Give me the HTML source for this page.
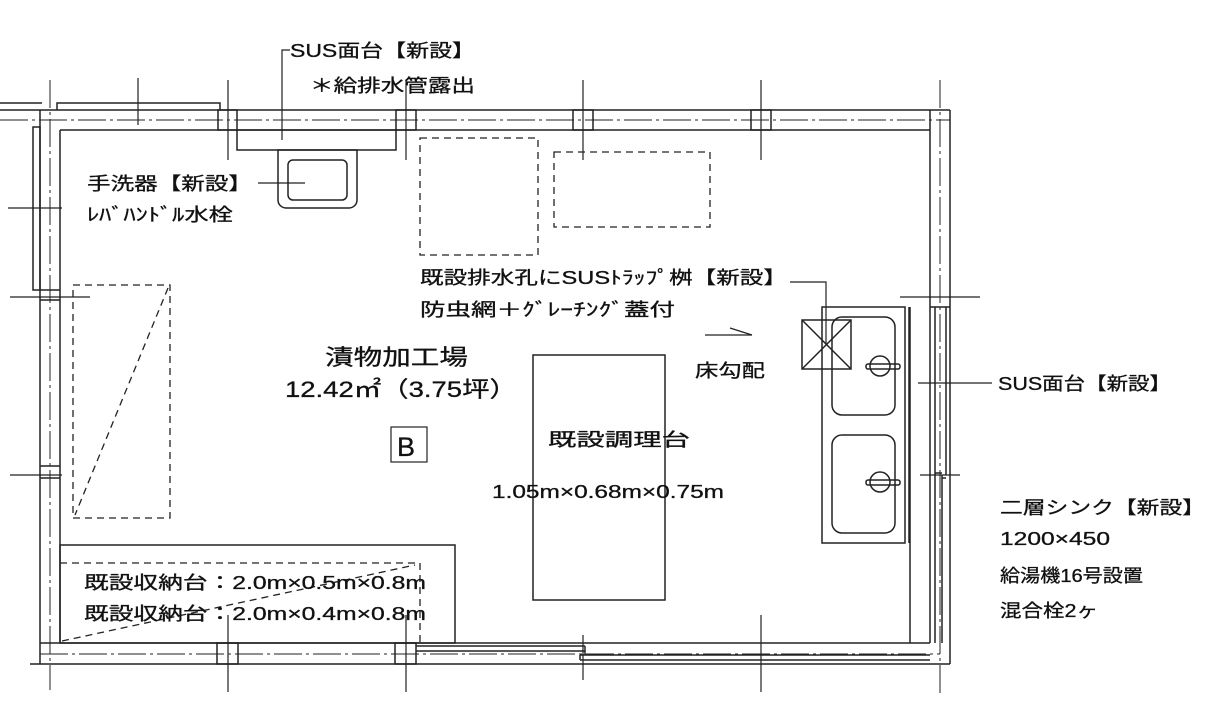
<!DOCTYPE html>
<html><head><meta charset="utf-8"><style>
html,body{margin:0;padding:0;background:#fff;}
svg{display:block;}
text{font-family:"Liberation Sans","Noto Sans CJK JP",sans-serif;fill:#111;stroke:#111;stroke-width:0.3;}
</style></head><body>
<svg width="1231" height="721" viewBox="0 0 1231 721" xmlns="http://www.w3.org/2000/svg">
<g stroke="#222" stroke-width="1.5" fill="none">
<line x1="0" y1="110" x2="950" y2="110"/>
<line x1="60" y1="130" x2="930" y2="130"/>
<line x1="0" y1="103" x2="42" y2="103"/>
<polyline points="57,110 57,103 220,103 220,110"/>
<line x1="40" y1="110" x2="40" y2="664"/>
<line x1="60" y1="130" x2="60" y2="643"/>
<rect x="33" y="127" width="7" height="163"/>
<line x1="40" y1="290" x2="60" y2="290"/>
<line x1="40" y1="300" x2="60" y2="300"/>
<line x1="40" y1="466" x2="60" y2="466"/>
<line x1="40" y1="478" x2="60" y2="478"/>
<line x1="930" y1="110" x2="930" y2="643"/>
<line x1="950" y1="110" x2="950" y2="664"/>
<line x1="40" y1="643" x2="930" y2="643"/>
<line x1="30" y1="664" x2="950" y2="664"/>
<rect x="218" y="110" width="19" height="20"/>
<rect x="396" y="110" width="20" height="20"/>
<rect x="573" y="110" width="20" height="20"/>
<rect x="751" y="110" width="20" height="20"/>
<rect x="217" y="643" width="21" height="21"/>
<rect x="395" y="643" width="21" height="21"/>
<line x1="416" y1="646" x2="585" y2="646"/>
<line x1="416" y1="651" x2="585" y2="651"/>
<line x1="580" y1="655" x2="930" y2="655"/>
<line x1="580" y1="660" x2="930" y2="660"/>
<line x1="585" y1="646" x2="585" y2="655"/>
<line x1="580" y1="655" x2="580" y2="660"/>
<line x1="935" y1="307" x2="935" y2="643"/>
<line x1="946" y1="307" x2="946" y2="475"/>
<line x1="942" y1="475" x2="942" y2="643"/>
<line x1="935" y1="473" x2="942" y2="473"/>
<line x1="942" y1="478" x2="946" y2="478"/>
<line x1="930" y1="307" x2="950" y2="307"/>
</g>
<g stroke="#222" stroke-width="1" stroke-dasharray="28,4,3,4" fill="none">
<line x1="0" y1="120" x2="950" y2="120"/>
<line x1="50" y1="80" x2="50" y2="690"/>
<line x1="940" y1="80" x2="940" y2="695"/>
<line x1="40" y1="654" x2="940" y2="654"/>
</g>
<g stroke="#222" stroke-width="1.2">
<line x1="138" y1="78" x2="138" y2="125"/>
<line x1="228" y1="80" x2="228" y2="160"/>
<line x1="406" y1="80" x2="406" y2="160"/>
<line x1="583" y1="80" x2="583" y2="160"/>
<line x1="761" y1="80" x2="761" y2="160"/>
<line x1="228" y1="615" x2="228" y2="692"/>
<line x1="406" y1="615" x2="406" y2="692"/>
<line x1="583" y1="635" x2="583" y2="680"/>
<line x1="761" y1="615" x2="761" y2="692"/>
<line x1="8" y1="208" x2="62" y2="208"/>
<line x1="10" y1="297" x2="90" y2="297"/>
<line x1="10" y1="475" x2="62" y2="475"/>
<line x1="900" y1="297" x2="980" y2="297"/>
<line x1="920" y1="475" x2="960" y2="475"/>
</g>
<g stroke="#222" stroke-width="1.5" fill="none">
<rect x="237" y="130" width="159" height="20"/>
<path d="M278,150 H357 V200 a8,8 0 0 1 -8,8 H286 a8,8 0 0 1 -8,-8 Z"/>
<rect x="288" y="160" width="59" height="40" rx="5"/>
<rect x="533" y="355" width="132" height="245"/>
<rect x="60" y="545" width="395" height="98"/>
<rect x="822" y="307" width="83" height="236"/>
<line x1="909" y1="307" x2="909" y2="543"/>
<line x1="910" y1="307" x2="910" y2="643"/>
<rect x="832" y="317" width="63" height="98" rx="10"/>
<rect x="832" y="435" width="63" height="98" rx="10"/>
<rect x="802" y="320" width="49" height="49"/>
<line x1="802" y1="320" x2="851" y2="369"/>
<line x1="851" y1="320" x2="802" y2="369"/>
<circle cx="880" cy="366" r="10"/>
<rect x="866" y="364" width="34" height="5" rx="2"/>
<circle cx="880" cy="482" r="10"/>
<rect x="866" y="480" width="34" height="5" rx="2"/>
<rect x="391" y="427" width="36" height="35" stroke-width="1.2"/>
</g>
<g stroke="#222" stroke-width="1.3" stroke-dasharray="7,5" fill="none">
<rect x="420" y="138" width="118" height="117"/>
<rect x="554" y="152" width="156" height="75"/>
<rect x="73" y="285" width="97" height="233"/>
<line x1="168" y1="288" x2="75" y2="515"/>
<polyline points="60,563 420,563 420,643"/>
<line x1="62" y1="641" x2="415" y2="565"/>
</g>
<g stroke="#222" stroke-width="1.2" fill="none">
<polyline points="290,50 282,50 282,140"/>
<line x1="258" y1="183" x2="305" y2="183"/>
<polyline points="790,282 826,282 826,345"/>
<line x1="918" y1="383" x2="992" y2="383"/>
<line x1="705" y1="335" x2="752" y2="335"/>
<line x1="730" y1="328" x2="752" y2="335"/>
</g>
<g font-size="18">
<text x="290" y="57" textLength="185" lengthAdjust="spacingAndGlyphs">SUS面台【新設】</text>
<text x="310" y="92" textLength="165" lengthAdjust="spacingAndGlyphs">＊給排水管露出</text>
<text x="87" y="190" textLength="165" lengthAdjust="spacingAndGlyphs">手洗器【新設】</text>
<text x="87" y="221" textLength="146" lengthAdjust="spacingAndGlyphs">ﾚﾊﾞﾊﾝﾄﾞﾙ水栓</text>
<text x="420" y="284" textLength="367" lengthAdjust="spacingAndGlyphs">既設排水孔にSUSﾄﾗｯﾌﾟ桝【新設】</text>
<text x="420" y="316" textLength="255" lengthAdjust="spacingAndGlyphs">防虫網＋ｸﾞﾚｰﾁﾝｸﾞ蓋付</text>
<text x="695" y="377" textLength="70" lengthAdjust="spacingAndGlyphs">床勾配</text>
<text x="548" y="446" textLength="142" lengthAdjust="spacingAndGlyphs">既設調理台</text>
<text x="492" y="498" textLength="232" lengthAdjust="spacingAndGlyphs">1.05m×0.68m×0.75m</text>
<text x="998" y="390" textLength="173" lengthAdjust="spacingAndGlyphs">SUS面台【新設】</text>
<text x="1000" y="514" textLength="205" lengthAdjust="spacingAndGlyphs">二層シンク【新設】</text>
<text x="1000" y="545" textLength="110" lengthAdjust="spacingAndGlyphs">1200×450</text>
<text x="1000" y="582" textLength="143" lengthAdjust="spacingAndGlyphs">給湯機16号設置</text>
<text x="1000" y="617" textLength="98" lengthAdjust="spacingAndGlyphs">混合栓2ヶ</text>
<text x="84" y="589" textLength="342" lengthAdjust="spacingAndGlyphs">既設収納台：2.0m×0.5m×0.8m</text>
<text x="84" y="620" textLength="342" lengthAdjust="spacingAndGlyphs">既設収納台：2.0m×0.4m×0.8m</text>
</g>
<text x="325" y="365" font-size="22" textLength="143" lengthAdjust="spacingAndGlyphs">漬物加工場</text>
<text x="285" y="397" font-size="22" textLength="232" lengthAdjust="spacingAndGlyphs">12.42㎡（3.75坪）</text>
<text x="397" y="456" font-size="27">B</text>
</svg>
</body></html>
